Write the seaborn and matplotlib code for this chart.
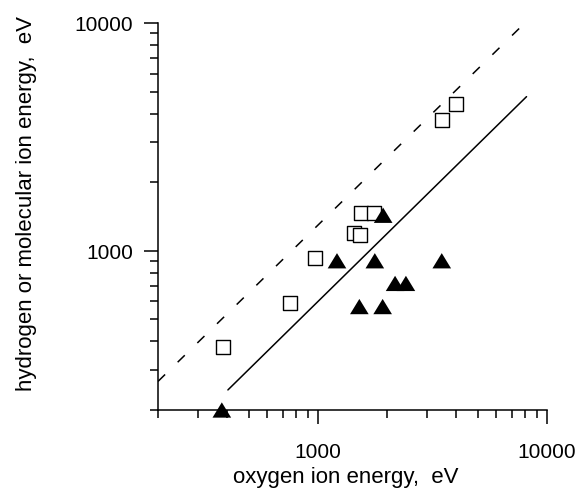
import numpy as np
import pandas as pd
import matplotlib
matplotlib.use("Agg")
import matplotlib.pyplot as plt
import matplotlib.ticker as mticker
import seaborn as sns

# open squares
sq_x = [385, 757, 970, 1440, 1530, 1540, 1760, 3470, 4020]
sq_y = [380, 588, 925, 1200, 1170, 1467, 1467, 3770, 4400]

# filled triangles
tri_x = [380, 1210, 1770, 3470, 1925, 2170, 2420, 1515, 1915]
tri_y = [200, 904, 904, 904, 1432, 719, 719, 569, 569]

# reference lines (end points)
solid_x = [404, 8140]
solid_y = [245, 4750]
dash_x = [200, 7820]
dash_y = [267, 9780]

tick_vals = [1000, 10000]
tick_labels = ["1000", "10000"]

sns.set_style("ticks")
plt.rcParams['font.family'] = ['Liberation Sans', 'DejaVu Sans']

fig = plt.figure(figsize=(5.8, 4.89), dpi=100)
ax = fig.add_axes([158 / 580, 1 - 411 / 489, 389 / 580, 387 / 489])

sq = pd.DataFrame({"x": sq_x, "y": sq_y})
tri = pd.DataFrame({"x": tri_x, "y": tri_y})

sns.lineplot(x=dash_x, y=dash_y, ax=ax, color="black", linewidth=1.1,
             dashes=False, estimator=None, sort=False)
ax.lines[-1].set_dashes((6.5, 11.5))
sns.lineplot(x=solid_x, y=solid_y, ax=ax, color="black", linewidth=1.1,
             estimator=None, sort=False)

sns.scatterplot(data=sq, x="x", y="y", ax=ax, marker="s", s=100,
                facecolor="white", edgecolor="black", linewidth=1.0, zorder=3)
tri_marker = [(-1, -0.82), (1, -0.82), (0, 0.82)]
sns.scatterplot(data=tri, x="x", y="y", ax=ax, marker=tri_marker, s=180,
                color="black", edgecolor="none", zorder=4, clip_on=False)

ax.set_xscale("log")
ax.set_yscale("log")
ax.set_xlim(200, 10000)
ax.set_ylim(200, 10000)

for axis in (ax.xaxis, ax.yaxis):
    axis.set_major_locator(mticker.FixedLocator(tick_vals))
    axis.set_major_formatter(mticker.FixedFormatter(tick_labels))
    axis.set_minor_locator(mticker.LogLocator(base=10, subs=np.arange(2, 10)))
    axis.set_minor_formatter(mticker.NullFormatter())

ax.tick_params(which="major", length=10, width=1.1, color="black",
               labelsize=15, labelcolor="black")
ax.tick_params(axis="x", which="major", pad=13)
ax.tick_params(axis="y", which="major", pad=8)
ax.tick_params(which="minor", length=6, width=1.1, color="black")

sns.despine(ax=ax)
for sp in ("left", "bottom"):
    ax.spines[sp].set_linewidth(1.1)
    ax.spines[sp].set_color("black")

ax.set_xlabel("oxygen ion energy,  eV", fontsize=16, color="black")
ax.set_ylabel("hydrogen or molecular ion energy,  eV", fontsize=16, color="black")
ax.xaxis.label.set_va("baseline")
ax.yaxis.label.set_va("center")
ax.xaxis.set_label_coords(0.483, -0.186)
ax.yaxis.set_label_coords(-0.339, 0.535)

fig.savefig("out.png", dpi=100)
